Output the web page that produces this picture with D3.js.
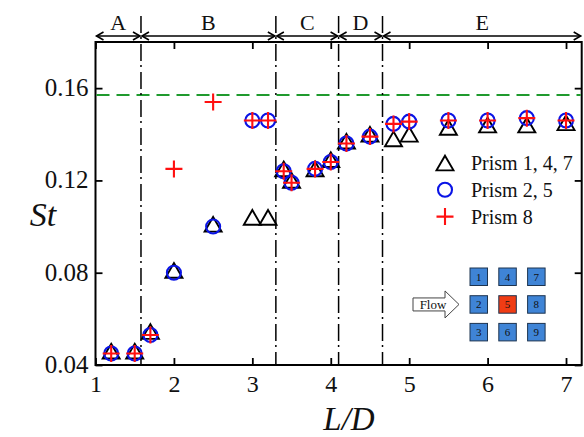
<!DOCTYPE html>
<html>
<head>
<meta charset="utf-8">
<script src="https://cdn.jsdelivr.net/npm/d3@7"></script>
<style>
  html, body { margin: 0; padding: 0; background: #fff; }
  svg { display: block; }
  svg text { font-family: "Liberation Serif", "DejaVu Serif", serif; fill: #111; }
</style>
</head>
<body>
<svg id="chart" width="584" height="437"></svg>
<script>
// Strouhal number vs spacing ratio for the 3x3 prism array
const spacing   = [1.2, 1.5, 1.7, 2.0, 2.5, 3.0, 3.2, 3.4, 3.5, 3.8, 4.0, 4.2, 4.5, 4.8, 5.0, 5.5, 6.0, 6.5, 7.0];
const stPrism147 = [0.046, 0.046, 0.0545, 0.081, 0.101, 0.104, 0.104, 0.125, 0.120, 0.125, 0.129, 0.137, 0.140, 0.138, 0.140, 0.143, 0.144, 0.144, 0.145];
const stPrism25  = [0.045, 0.045, 0.053, 0.080, 0.100, 0.146, 0.146, 0.124, 0.119, 0.125, 0.128, 0.136, 0.139, 0.1445, 0.1455, 0.146, 0.146, 0.147, 0.146];
const stPrism8   = [0.045, 0.045, 0.053, 0.125, 0.154, 0.146, 0.146, 0.124, 0.119, 0.125, 0.128, 0.136, 0.139, 0.1445, 0.1455, 0.146, 0.146, 0.147, 0.146];

const xTicks = [1, 2, 3, 4, 5, 6, 7];
const yTicks = [0.04, 0.08, 0.12, 0.16];
const regionNames  = ["A", "B", "C", "D", "E"];
const regionBounds = [1.58, 3.3, 4.1, 4.66];
const isolatedSt = 0.157;
const legendNames = ["Prism 1, 4, 7", "Prism 2, 5", "Prism 8"];
const prismIds = [[1, 4, 7], [2, 5, 8], [3, 6, 9]];
const highlightedPrism = 5;

const svg = d3.select("#chart");
const plotLeft = 95.5, plotRight = 581.7, plotTop = 42, plotBottom = 365;

const x = d3.scaleLinear().domain([1, 7.2]).range([plotLeft, plotRight]);
const y = d3.scaleLinear().domain([0.04, 0.18]).range([plotBottom, plotTop]);

const fontStack = '"Liberation Serif", "DejaVu Serif", serif';

// axes with inward ticks on all four sides
function styleAxis(g) {
  g.attr("font-family", null);
  g.select(".domain").remove();
  g.selectAll(".tick line").attr("stroke", "#000").attr("stroke-width", 1.8);
  g.selectAll("text").style("font-family", fontStack).attr("fill", "#111");
}
svg.append("g").attr("transform", `translate(0,${plotBottom})`)
  .call(d3.axisBottom(x).tickValues(xTicks).tickFormat(d3.format("d")).tickSizeInner(-7).tickSizeOuter(0))
  .call(styleAxis)
  .call(g => g.selectAll("text").attr("y", 27).attr("dy", 0).style("font-size", "24px"));
svg.append("g").attr("transform", `translate(0,${plotTop})`)
  .call(d3.axisTop(x).tickValues(xTicks).tickFormat("").tickSizeInner(-7).tickSizeOuter(0))
  .call(styleAxis);
svg.append("g").attr("transform", `translate(${plotLeft},0)`)
  .call(d3.axisLeft(y).tickValues(yTicks).tickFormat(d3.format(".2f")).tickSizeInner(-7).tickSizeOuter(0))
  .call(styleAxis)
  .call(g => g.selectAll("text").attr("x", -7).attr("dy", "0.3em").style("font-size", "25px"));
svg.append("g").attr("transform", `translate(${plotRight},0)`)
  .call(d3.axisRight(y).tickValues(yTicks).tickFormat("").tickSizeInner(-7).tickSizeOuter(0))
  .call(styleAxis);

svg.append("rect")
  .attr("x", plotLeft).attr("y", plotTop)
  .attr("width", plotRight - plotLeft).attr("height", plotBottom - plotTop)
  .attr("fill", "none").attr("stroke", "#000").attr("stroke-width", 2);

// isolated-prism reference level
svg.append("line")
  .attr("x1", plotLeft + 1).attr("x2", plotRight - 1)
  .attr("y1", y(isolatedSt)).attr("y2", y(isolatedSt))
  .attr("stroke", "#1f9a2e").attr("stroke-width", 2)
  .attr("stroke-dasharray", "13,7");

// flow-regime boundaries
svg.append("g").selectAll("line").data(regionBounds).join("line")
  .attr("x1", d => x(d)).attr("x2", d => x(d))
  .attr("y1", 16).attr("y2", plotBottom)
  .attr("stroke", "#000").attr("stroke-width", 1.5)
  .attr("stroke-dasharray", "17,4,2,5");

// regime arrows and labels
const edges = [1, ...regionBounds, 7.2];
const arrowY = 36;
const regions = regionNames.map((name, i) => ({ name, a: edges[i], b: edges[i + 1] }));
const rg = svg.append("g");
regions.forEach(r => {
  const x1 = x(r.a) + 1, x2 = x(r.b) - 1;
  rg.append("line").attr("x1", x1).attr("x2", x2).attr("y1", arrowY).attr("y2", arrowY)
    .attr("stroke", "#000").attr("stroke-width", 1.6);
  rg.append("path")
    .attr("d", `M${x1 + 7},${arrowY - 4}L${x1},${arrowY}L${x1 + 7},${arrowY + 4}M${x2 - 7},${arrowY - 4}L${x2},${arrowY}L${x2 - 7},${arrowY + 4}`)
    .attr("fill", "none").attr("stroke", "#000").attr("stroke-width", 1.6);
  rg.append("text").attr("x", (x(r.a) + x(r.b)) / 2).attr("y", 30)
    .attr("text-anchor", "middle").style("font-size", "22px").text(r.name);
});

// markers
const triSide = 17, triH = 14.7;
const triPath = `M0,${-triH / 2}L${triSide / 2},${triH / 2}L${-triSide / 2},${triH / 2}Z`;
const crossPath = "M-8.5,0H8.5M0,-8.5V8.5";

function drawTri(g, cx, cy) {
  g.append("path").attr("d", triPath).attr("transform", `translate(${cx},${cy})`)
    .attr("fill", "none").attr("stroke", "#000").attr("stroke-width", 1.9).attr("stroke-linejoin", "miter");
}
function drawCircle(g, cx, cy) {
  g.append("circle").attr("cx", cx).attr("cy", cy).attr("r", 7)
    .attr("fill", "none").attr("stroke", "#0a14e6").attr("stroke-width", 2.1);
}
function drawCross(g, cx, cy) {
  g.append("path").attr("d", crossPath).attr("transform", `translate(${cx},${cy})`)
    .attr("fill", "none").attr("stroke", "#ff1010").attr("stroke-width", 2.1);
}

const marks = svg.append("g");
const gTri = marks.append("g"), gCir = marks.append("g"), gCro = marks.append("g");
spacing.forEach((ld, i) => drawTri(gTri, x(ld), y(stPrism147[i])));
spacing.forEach((ld, i) => drawCircle(gCir, x(ld), y(stPrism25[i])));
spacing.forEach((ld, i) => drawCross(gCro, x(ld), y(stPrism8[i])));

// legend
const legend = svg.append("g");
const legendDraw = [drawTri, drawCircle, drawCross];
legendNames.forEach((name, i) => {
  const ly = 163 + i * 26.8;
  const lg = legend.append("g");
  legendDraw[i](lg, 445, ly);
  legend.append("text").attr("x", 471).attr("y", ly + 7).style("font-size", "20px").text(name);
});

// prism arrangement sketch
const inset = svg.append("g");
const cellX0 = 470, cellY0 = 268, pitchX = 28.8, pitchY = 27.7, cell = 17.5;
prismIds.forEach((row, r) => row.forEach((id, c) => {
  const cx = cellX0 + c * pitchX, cy = cellY0 + r * pitchY;
  inset.append("rect").attr("x", cx).attr("y", cy).attr("width", cell).attr("height", cell)
    .attr("fill", id === highlightedPrism ? "#f03c14" : "#3f84d6")
    .attr("stroke", "#1d3450").attr("stroke-width", 1);
  inset.append("text").attr("x", cx + cell / 2).attr("y", cy + cell / 2 + 4)
    .attr("text-anchor", "middle").style("font-size", "11px").attr("fill", "#0d1a33").text(id);
}));
const ay = cellY0 + pitchY + cell / 2;
inset.append("path")
  .attr("d", `M413,${ay - 6.5}H445V${ay - 13.5}L459,${ay}L445,${ay + 13.5}V${ay + 6.5}H413Z`)
  .attr("fill", "#fff").attr("stroke", "#444").attr("stroke-width", 1);
inset.append("text").attr("x", 433).attr("y", ay + 4.5).attr("text-anchor", "middle")
  .style("font-size", "13px").text("Flow");

// axis titles
svg.append("text").attr("x", 43).attr("y", 226).attr("text-anchor", "middle")
  .style("font-size", "34px").style("font-style", "italic").text("St");
svg.append("text").attr("x", 349).attr("y", 430).attr("text-anchor", "middle")
  .style("font-size", "33px").style("font-style", "italic").text("L/D");
</script>
</body>
</html>
